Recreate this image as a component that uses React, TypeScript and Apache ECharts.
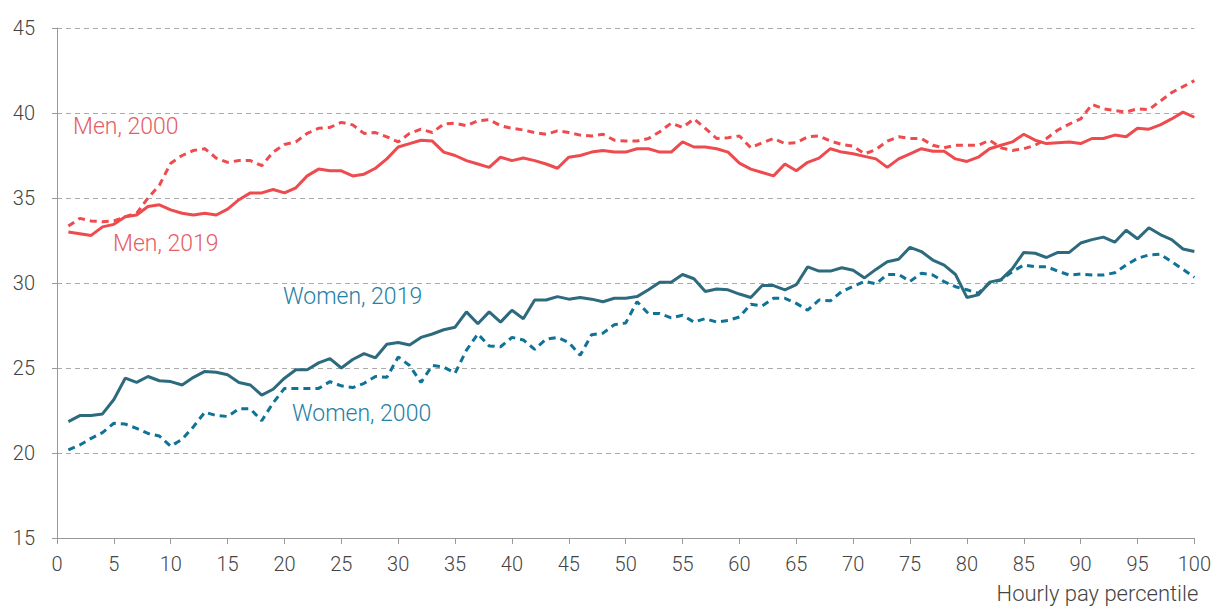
import React, { useEffect, useRef } from "react";
import * as echarts from "echarts";

const percentiles: number[] = Array.from({ length: 100 }, (_, i) => i + 1);

const men2019: number[] = [
  33.0, 32.9, 32.8, 33.3, 33.45, 33.9, 34.0, 34.5, 34.6, 34.3,
  34.1, 34.0, 34.1, 34.0, 34.35, 34.9, 35.3, 35.3, 35.5, 35.3,
  35.6, 36.3, 36.7, 36.6, 36.6, 36.3, 36.4, 36.75, 37.3, 38.0,
  38.2, 38.4, 38.35, 37.7, 37.5, 37.2, 37.0, 36.8, 37.4, 37.2,
  37.35, 37.2, 37.0, 36.75, 37.4, 37.5, 37.7, 37.8, 37.7, 37.7,
  37.9, 37.9, 37.7, 37.7, 38.3, 38.0, 38.0, 37.9, 37.7, 37.05,
  36.7, 36.5, 36.3, 37.0, 36.6, 37.1, 37.35, 37.9, 37.7, 37.6,
  37.45, 37.3, 36.8, 37.3, 37.6, 37.9, 37.75, 37.75, 37.3, 37.15,
  37.4, 37.9, 38.1, 38.3, 38.75, 38.4, 38.2, 38.25, 38.3, 38.2,
  38.5, 38.5, 38.7, 38.6, 39.1, 39.05, 39.3, 39.65, 40.05, 39.75,
];

const men2000: number[] = [
  33.35, 33.8, 33.65, 33.6, 33.65, 33.9, 34.1, 35.0, 35.75, 37.05,
  37.5, 37.8, 37.9, 37.35, 37.1, 37.2, 37.2, 36.9, 37.7, 38.15,
  38.3, 38.8, 39.1, 39.15, 39.45, 39.3, 38.8, 38.85, 38.6, 38.3,
  38.8, 39.05, 38.85, 39.35, 39.4, 39.25, 39.55, 39.6, 39.25, 39.1,
  39.0, 38.85, 38.75, 38.95, 38.85, 38.7, 38.65, 38.75, 38.4, 38.35,
  38.35, 38.5, 38.9, 39.4, 39.15, 39.65, 39.1, 38.5, 38.55, 38.65,
  37.95, 38.25, 38.5, 38.2, 38.25, 38.6, 38.65, 38.35, 38.15, 38.05,
  37.6, 37.85, 38.35, 38.6, 38.5, 38.5, 38.1, 37.95, 38.1, 38.1,
  38.1, 38.4, 37.95, 37.8, 37.9, 38.1, 38.5, 39.0, 39.35, 39.65,
  40.5, 40.25, 40.15, 40.05, 40.25, 40.2, 40.7, 41.2, 41.55, 41.9,
];

const women2019: number[] = [
  21.85, 22.2, 22.2, 22.3, 23.15, 24.4, 24.15, 24.5, 24.25, 24.2,
  24.0, 24.45, 24.8, 24.75, 24.6, 24.15, 24.0, 23.4, 23.75, 24.4,
  24.9, 24.9, 25.3, 25.55, 25.0, 25.5, 25.85, 25.6, 26.4, 26.5,
  26.35, 26.8, 27.0, 27.25, 27.4, 28.3, 27.6, 28.3, 27.7, 28.4,
  27.9, 29.0, 29.0, 29.2, 29.05, 29.15, 29.05, 28.9, 29.1, 29.1,
  29.2, 29.6, 30.05, 30.05, 30.5, 30.25, 29.5, 29.65, 29.6, 29.35,
  29.15, 29.85, 29.85, 29.6, 29.9, 30.95, 30.7, 30.7, 30.9, 30.75,
  30.3, 30.8, 31.25, 31.4, 32.1, 31.85, 31.35, 31.05, 30.5, 29.15,
  29.3, 30.05, 30.2, 30.85, 31.8, 31.75, 31.5, 31.8, 31.8, 32.35,
  32.55, 32.7, 32.4, 33.1, 32.6, 33.25, 32.85, 32.55, 32.0, 31.85,
];

const women2000: number[] = [
  20.18, 20.47, 20.86, 21.2, 21.75, 21.7, 21.45, 21.15, 21.0, 20.4,
  20.8, 21.55, 22.4, 22.2, 22.15, 22.6, 22.6, 21.9, 22.95, 23.8,
  23.8, 23.8, 23.8, 24.2, 23.95, 23.85, 24.1, 24.5, 24.45, 25.65,
  25.15, 24.15, 25.15, 25.05, 24.7, 26.05, 27.0, 26.3, 26.25, 26.8,
  26.65, 26.1, 26.7, 26.8, 26.5, 25.75, 26.95, 27.05, 27.55, 27.65,
  28.9, 28.2, 28.2, 27.95, 28.1, 27.7, 27.9, 27.7, 27.8, 28.0,
  28.75, 28.65, 29.1, 29.1, 28.8, 28.4, 29.0, 28.95, 29.5, 29.8,
  30.1, 29.95, 30.5, 30.5, 30.1, 30.57, 30.47, 30.08, 29.78, 29.6,
  29.4, 30.0, 30.18, 30.67, 31.06, 30.96, 30.96, 30.7, 30.47, 30.53,
  30.47, 30.47, 30.6, 31.06, 31.45, 31.65, 31.7, 31.25, 30.8, 30.33,
];

const xTicks = { min: 0, max: 100, interval: 5 };
const yTicks = { min: 15, max: 45, interval: 5 };
const xAxisTitle = "Hourly pay percentile";
const seriesLabels = ["Men, 2000", "Men, 2019", "Women, 2019", "Women, 2000"];

const RED = "#EE4B4F";
const RED_LABEL = "#E35E66";
const TEAL_SOLID = "#2E6A7E";
const TEAL_DASH = "#0F7297";
const TEAL_LABEL = "#2580A6";
const FONT = "Roboto, 'Liberation Sans', sans-serif";
const WEIGHT = 300;

const pairs = (vals: number[]) => percentiles.map((p, i) => [p, vals[i]]);

export default function App() {
  const ref = useRef<HTMLDivElement>(null);
  useEffect(() => {
    if (!ref.current) return;
    const chart = echarts.init(ref.current, undefined, { renderer: "svg" });
    const lineBase = {
      type: "line" as const,
      showSymbol: false,
      symbol: "none",
      smooth: false,
      silent: true,
    };
    const labelStyle = (text: string, fill: string) => ({
      text,
      fontFamily: FONT,
      fontWeight: WEIGHT,
      fontSize: 23,
      fill,
    });
    chart.setOption({
      animation: false,
      backgroundColor: "#ffffff",
      grid: { left: 57, right: 19, top: 28, bottom: 70, containLabel: false },
      xAxis: {
        type: "value",
        min: xTicks.min,
        max: xTicks.max,
        interval: xTicks.interval,
        name: xAxisTitle,
        nameLocation: "end",
        nameGap: 0,
        nameTextStyle: {
          fontFamily: FONT,
          fontWeight: WEIGHT,
          fontSize: 22,
          color: "#444",
          align: "right",
          verticalAlign: "top",
          padding: [44, -4, 0, 0],
        },
        axisLine: { show: true, lineStyle: { color: "#999", width: 1 } },
        axisTick: { show: true, length: 6, lineStyle: { color: "#999" } },
        axisLabel: {
          fontFamily: FONT,
          fontWeight: WEIGHT,
          fontSize: 20,
          color: "#444",
          margin: 16,
        },
        splitLine: { show: false },
      },
      yAxis: {
        type: "value",
        min: yTicks.min,
        max: yTicks.max,
        interval: yTicks.interval,
        axisLine: { show: true, lineStyle: { color: "#999", width: 1 } },
        axisTick: { show: true, length: 5, lineStyle: { color: "#999" } },
        axisLabel: {
          fontFamily: FONT,
          fontWeight: WEIGHT,
          fontSize: 20,
          color: "#444",
          margin: 22,
        },
        splitLine: {
          show: true,
          lineStyle: { color: "#AAAAAA", type: [5, 4], width: 1 },
        },
      },
      series: [
        {
          ...lineBase,
          name: seriesLabels[0],
          data: pairs(men2000),
          lineStyle: { color: RED, width: 3, type: [7, 5] },
          z: 3,
        },
        {
          ...lineBase,
          name: seriesLabels[1],
          data: pairs(men2019),
          lineStyle: { color: RED, width: 3, type: "solid" },
          z: 4,
        },
        {
          ...lineBase,
          name: seriesLabels[2],
          data: pairs(women2019),
          lineStyle: { color: TEAL_SOLID, width: 3, type: "solid" },
          z: 4,
        },
        {
          ...lineBase,
          name: seriesLabels[3],
          data: pairs(women2000),
          lineStyle: { color: TEAL_DASH, width: 3, type: [7, 5] },
          z: 3,
        },
      ],
      graphic: [
        { type: "text", left: 73, top: 115, style: labelStyle(seriesLabels[0], RED_LABEL) },
        { type: "text", left: 113, top: 232, style: labelStyle(seriesLabels[1], RED_LABEL) },
        { type: "text", left: 283, top: 285, style: labelStyle(seriesLabels[2], TEAL_LABEL) },
        { type: "text", left: 292, top: 402, style: labelStyle(seriesLabels[3], TEAL_LABEL) },
      ],
    });
    return () => chart.dispose();
  }, []);
  return (
    <div
      ref={ref}
      style={{ position: "fixed", left: 0, top: 0, width: 1214, height: 608 }}
    />
  );
}
